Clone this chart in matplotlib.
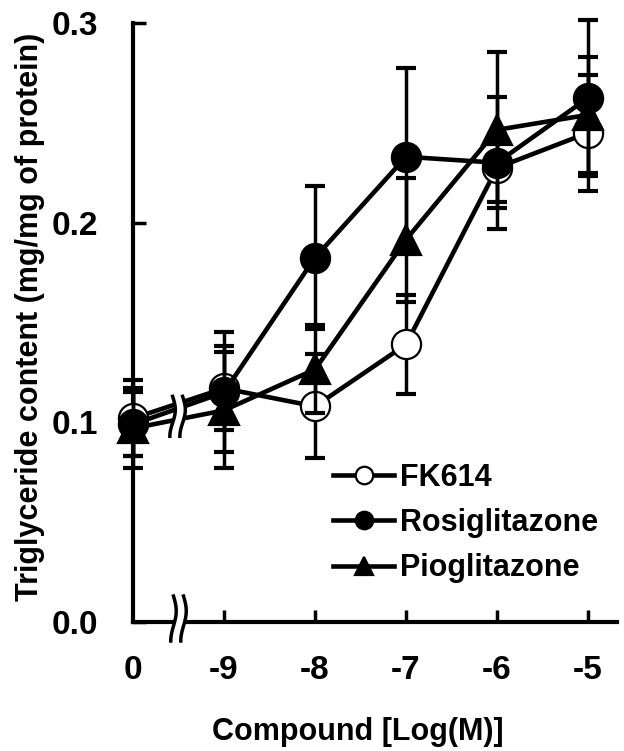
import numpy as np
import matplotlib
matplotlib.use('Agg')
import matplotlib.pyplot as plt

plt.rcParams['font.family'] = ['Liberation Sans', 'DejaVu Sans']
plt.rcParams['font.weight'] = 'bold'
plt.rcParams['axes.labelweight'] = 'bold'
plt.rcParams['font.size'] = 22

# x categories (0 = vehicle, then log concentration)
TICK_LABELS = ['0', '-9', '-8', '-7', '-6', '-5']

FK614 = [0.102, 0.117, 0.108, 0.139, 0.2275, 0.245]
FK614_ERR = [0.019, 0.021, 0.026, 0.025, 0.017, 0.029]

ROSI = [0.099, 0.115, 0.1825, 0.233, 0.230, 0.2625]
ROSI_ERR = [0.016, 0.030, 0.036, 0.0445, 0.033, 0.039]

PIO = [0.097, 0.106, 0.1265, 0.1915, 0.2465, 0.254]
PIO_ERR = [0.020, 0.029, 0.022, 0.031, 0.039, 0.029]

W, H = 624, 751
fig = plt.figure(figsize=(W / 100, H / 100), dpi=100)
ax = fig.add_axes([133 / W, 1 - 622 / H, (617 - 133) / W, (622 - 23) / H])

xs = np.arange(len(TICK_LABELS))

series = [
    ('FK614', FK614, FK614_ERR, 'o', 'white', 3),
    ('Pioglitazone', PIO, PIO_ERR, '^', 'black', 4),
    ('Rosiglitazone', ROSI, ROSI_ERR, 'o', 'black', 5),
]
handles = {}
for name, vals, err, mk, fc, z in series:
    ax.errorbar(xs, vals, yerr=err, fmt='none', ecolor='black', elinewidth=2.5,
                capsize=7.5, capthick=3, zorder=z, clip_on=False)
    ln, = ax.plot(xs, vals, color='black', lw=3.3, marker=mk, ms=21,
                  mfc=fc, mec='black', mew=1.6, zorder=z, clip_on=False, label=name)
    handles[name] = ln

ax.set_xlim(0, (617 - 133) / 91)
ax.set_ylim(0, 0.3)
ax.set_xticks(xs)
ax.set_xticklabels(TICK_LABELS)
ax.xaxis.get_major_ticks()[0].tick1line.set_visible(False)
ax.set_yticks([0.0, 0.1, 0.2, 0.3])
ax.set_yticklabels(['0.0', '0.1', '0.2', '0.3'])

for s in ['top', 'right']:
    ax.spines[s].set_visible(False)
for s in ['left', 'bottom']:
    ax.spines[s].set_linewidth(3)
ax.tick_params(direction='in', length=9, width=2.5, labelsize=24)
ax.tick_params(axis='x', pad=24)
ax.tick_params(axis='y', pad=25)

ax.set_ylabel('Triglyceride content (mg/mg of protein)', fontsize=22, va='center')
ax.yaxis.set_label_coords(-0.213, 0.51)
ax.set_xlabel('Compound [Log(M)]', fontsize=22, va='center')
ax.xaxis.set_label_coords(0.465, -0.184)

# axis break marks
def brk(xc, y0, y1, z):
    t = np.linspace(0, 1, 40)
    yy = y0 + (y1 - y0) * t
    off = 0.03 * np.sin(np.pi * t * 1.5)
    xa = xc - 0.055 + off
    xb = xc + 0.055 + off
    ax.fill_betweenx(yy, xa, xb, color='white', zorder=z, clip_on=False)
    ax.plot(xa, yy, color='black', lw=2.5, zorder=z + 1, clip_on=False)
    ax.plot(xb, yy, color='black', lw=2.5, zorder=z + 1, clip_on=False)

brk(0.5, 0.013, -0.0095, 8)
brk(0.49, 0.113, 0.093, 8)

order = ['FK614', 'Rosiglitazone', 'Pioglitazone']
leg = fig.legend([handles[n] for n in order], order, loc='center left',
                 bbox_to_anchor=(333 / W, 1 - 523 / H), frameon=False,
                 borderpad=0, borderaxespad=0, handlelength=2.0,
                 handletextpad=0.2, labelspacing=0.5, markerscale=0.6,
                 prop={'size': 22, 'weight': 'bold'})

fig.savefig('out.png', dpi=100)
